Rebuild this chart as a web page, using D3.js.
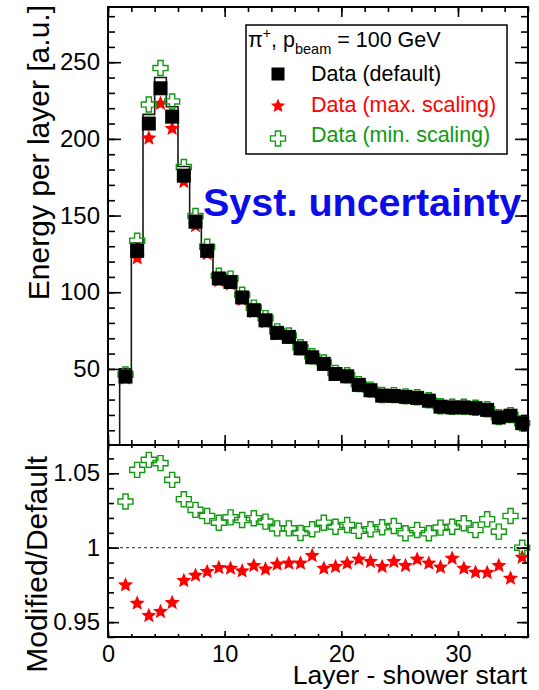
<!DOCTYPE html>
<html><head><meta charset="utf-8">
<script src="https://cdn.jsdelivr.net/npm/d3@7"></script>
<style>
body{margin:0;background:#fff}
svg{display:block;font-family:"Liberation Sans",Arial,Helvetica,sans-serif}
</style>
</head><body>
<svg id="c" width="539" height="690"></svg>
<script>
// ---- data ----
const layerStart = [1,2,3,4,5,6,7,8,9,10,11,12,13,14,15,16,17,18,19,20,21,22,23,24,25,26,27,28,29,30,31,32,33,34,35];
const energyDefault = [45.0,127.0,210.0,233.0,214.5,176.0,146.0,127.0,109.0,106.7,96.6,88.3,81.7,73.5,70.9,63.5,57.6,53.3,46.7,45.2,39.6,36.1,32.6,32.4,31.8,31.1,29.3,25.4,24.9,24.9,24.4,23.3,18.4,19.5,14.6];
const energyMax = [43.9,122.3,200.4,223.0,206.7,172.1,143.3,125.0,107.5,105.2,95.1,87.2,80.5,72.7,70.2,62.8,57.3,52.6,46.1,44.7,39.3,35.8,32.2,32.1,31.4,30.9,29.0,25.1,24.7,24.6,24.0,22.9,18.2,19.1,14.5];
const energyMin = [46.4,133.6,222.4,246.2,224.4,181.7,149.7,129.7,110.8,108.9,98.4,90.0,83.1,74.5,71.8,64.1,58.3,54.2,47.4,45.9,40.1,36.5,33.0,32.9,32.1,31.5,29.6,25.7,25.3,25.3,24.7,23.7,18.6,19.9,14.6];
const histLine = [50,132,216,240,221,182,150,130,112,109,99,91,84,76,73,66,60,55,49,47,41,38,34,34,33,32,31,27,26,26,25.5,24.5,19.5,20.5,15.5];
const ratioMax = [0.9749,0.9626,0.9543,0.9570,0.9630,0.9778,0.9814,0.9839,0.9865,0.9861,0.9843,0.9879,0.9855,0.9888,0.9895,0.9895,0.9946,0.9861,0.9872,0.9895,0.9922,0.9906,0.9872,0.9906,0.9879,0.9922,0.9895,0.9868,0.9928,0.9861,0.9834,0.9832,0.9879,0.9794,0.9935];
const ratioMin = [1.031,1.0523,1.059,1.0568,1.0456,1.0326,1.0254,1.0213,1.0168,1.0204,1.0186,1.0198,1.0175,1.013,1.013,1.0099,1.0124,1.0168,1.0141,1.0153,1.0114,1.0124,1.0137,1.0146,1.0097,1.0119,1.0097,1.0135,1.0141,1.0164,1.0119,1.0191,1.0108,1.0213,1.0];
const xMajorTicks = [0,10,20,30];
const yTopMajorTicks = [50,100,150,200,250];
const yBotMajorTicks = [0.95,1,1.05];
const yBotTickLabels = ["0.95","1","1.05"];
const legendLabels = ["Data (default)","Data (max. scaling)","Data (min. scaling)"];

// ---- styles ----
const RED = "#ff0000", GREEN = "#119911", BLUE = "#0c0ceb";
const FONT = 24;

const svg = d3.select("#c");
const L = 108, R = 528, T = 7, MID = 445, B = 637;

const x = d3.scaleLinear([0, 36], [L, R]);
const yTop = d3.scaleLinear([0, 286], [445.6, T]);
const yBot = d3.scaleLinear([0.94, 1.069], [B, MID]);

function starPath(r) {
  const ri = r * 0.45, pts = [];
  for (let i = 0; i < 10; i++) {
    const a = -Math.PI / 2 + i * Math.PI / 5, rr = i % 2 ? ri : r;
    pts.push([rr * Math.cos(a), rr * Math.sin(a)]);
  }
  return "M" + pts.map(p => p[0].toFixed(2) + "," + p[1].toFixed(2)).join("L") + "Z";
}
function crossPath(h, a) {
  return `M${-a},${-h}H${a}V${-a}H${h}V${a}H${a}V${h}H${-a}V${a}H${-h}V${-a}H${-a}Z`;
}

const center = d => d + 0.5;

// ---- top panel marks ----
const gTop = svg.append("g");
const linePts = [[layerStart[0], 0]].concat(layerStart.map((s, i) => [s, histLine[i]]))
  .concat([[layerStart[layerStart.length - 1] + 1, histLine[histLine.length - 1]]]);
gTop.append("path")
  .attr("d", d3.line().x(d => x(d[0])).y(d => yTop(d[1])).curve(d3.curveStepAfter)(linePts))
  .attr("fill", "none").attr("stroke", "#1a1a12").attr("stroke-width", 1.6);

gTop.selectAll(".smax").data(layerStart).join("path")
  .attr("d", starPath(8)).attr("fill", RED)
  .attr("transform", (d, i) => `translate(${x(center(d))},${yTop(energyMax[i])})`);
gTop.selectAll(".smin").data(layerStart).join("path")
  .attr("d", crossPath(7.5, 2.6)).attr("fill", "none").attr("stroke", GREEN).attr("stroke-width", 1.4)
  .attr("transform", (d, i) => `translate(${x(center(d))},${yTop(energyMin[i])})`);
gTop.selectAll(".sdef").data(layerStart).join("rect")
  .attr("x", d => x(center(d)) - 7).attr("y", (d, i) => yTop(energyDefault[i]) - 7)
  .attr("width", 14).attr("height", 14).attr("fill", "#000");

// ---- bottom panel marks ----
const gBot = svg.append("g");
gBot.append("line").attr("x1", L).attr("x2", R).attr("y1", yBot(1)).attr("y2", yBot(1))
  .attr("stroke", "#555").attr("stroke-width", 1.2).attr("stroke-dasharray", "3,3");
gBot.selectAll(".rmax").data(layerStart).join("path")
  .attr("d", starPath(8)).attr("fill", RED)
  .attr("transform", (d, i) => `translate(${x(center(d))},${yBot(ratioMax[i])})`);
gBot.selectAll(".rmin").data(layerStart).join("path")
  .attr("d", crossPath(7.5, 2.6)).attr("fill", "none").attr("stroke", GREEN).attr("stroke-width", 1.4)
  .attr("transform", (d, i) => `translate(${x(center(d))},${yBot(ratioMin[i])})`);

// ---- axes ----
function styleAxis(g, size) {
  g.select(".domain").remove();
  g.selectAll(".tick line").attr("stroke", "#000").attr("stroke-width", 1.6);
  g.selectAll(".tick text").attr("font-size", size || FONT).attr("fill", "#000")
    .attr("font-family", '"Liberation Sans",Arial,sans-serif');
}
const xMinor = d3.range(0, 37, 2);
svg.append("g").attr("transform", `translate(0,${T})`)
  .call(d3.axisTop(x).tickValues(xMinor).tickSizeInner(-5).tickSizeOuter(0).tickFormat("")).call(styleAxis);
svg.append("g").attr("transform", `translate(0,${T})`)
  .call(d3.axisTop(x).tickValues(xMajorTicks).tickSizeInner(-10).tickSizeOuter(0).tickFormat("")).call(styleAxis);
svg.append("g").attr("transform", `translate(0,${MID})`)
  .call(d3.axisBottom(x).tickValues(xMinor).tickSizeInner(-5).tickSizeOuter(0).tickFormat("")).call(styleAxis);
svg.append("g").attr("transform", `translate(0,${MID})`)
  .call(d3.axisBottom(x).tickValues(xMajorTicks).tickSizeInner(-10).tickSizeOuter(0).tickFormat("")).call(styleAxis);
svg.append("g").attr("transform", `translate(0,${MID})`)
  .call(d3.axisTop(x).tickValues(xMinor).tickSizeInner(-3).tickSizeOuter(0).tickFormat("")).call(styleAxis);
svg.append("g").attr("transform", `translate(0,${MID})`)
  .call(d3.axisTop(x).tickValues(xMajorTicks).tickSizeInner(-6).tickSizeOuter(0).tickFormat("")).call(styleAxis);
svg.append("g").attr("transform", `translate(0,${B})`)
  .call(d3.axisBottom(x).tickValues(xMinor).tickSizeInner(-3).tickSizeOuter(0).tickFormat("")).call(styleAxis);
svg.append("g").attr("transform", `translate(0,${B})`)
  .call(d3.axisBottom(x).tickValues(xMajorTicks).tickSizeInner(-6).tickSizeOuter(0).tickPadding(8).tickFormat(d3.format("d")))
  .call(g => styleAxis(g, 23.5));

const yTopMinor = d3.range(10, 281, 10);
svg.append("g").attr("transform", `translate(${L},0)`)
  .call(d3.axisLeft(yTop).tickValues(yTopMinor).tickSizeInner(-7).tickSizeOuter(0).tickFormat("")).call(styleAxis);
svg.append("g").attr("transform", `translate(${L},0)`)
  .call(d3.axisLeft(yTop).tickValues(yTopMajorTicks).tickSizeInner(-13).tickSizeOuter(0).tickPadding(8).tickFormat(d3.format("d"))).call(styleAxis);
svg.append("g").attr("transform", `translate(${R},0)`)
  .call(d3.axisRight(yTop).tickValues(yTopMinor).tickSizeInner(-7).tickSizeOuter(0).tickFormat("")).call(styleAxis);
svg.append("g").attr("transform", `translate(${R},0)`)
  .call(d3.axisRight(yTop).tickValues(yTopMajorTicks).tickSizeInner(-13).tickSizeOuter(0).tickFormat("")).call(styleAxis);

const yBotMinor = d3.range(0, 13).map(i => 0.94 + i * 0.01);
svg.append("g").attr("transform", `translate(${L},0)`)
  .call(d3.axisLeft(yBot).tickValues(yBotMinor).tickSizeInner(-6).tickSizeOuter(0).tickFormat("")).call(styleAxis);
svg.append("g").attr("transform", `translate(${L},0)`)
  .call(d3.axisLeft(yBot).tickValues(yBotMajorTicks).tickSizeInner(-11).tickSizeOuter(0).tickPadding(8)
    .tickFormat((d, i) => yBotTickLabels[i])).call(styleAxis);
svg.append("g").attr("transform", `translate(${R},0)`)
  .call(d3.axisRight(yBot).tickValues(yBotMinor).tickSizeInner(-6).tickSizeOuter(0).tickFormat("")).call(styleAxis);
svg.append("g").attr("transform", `translate(${R},0)`)
  .call(d3.axisRight(yBot).tickValues(yBotMajorTicks).tickSizeInner(-11).tickSizeOuter(0).tickFormat("")).call(styleAxis);

// frames
svg.append("rect").attr("x", L).attr("y", T).attr("width", R - L).attr("height", MID - T)
  .attr("fill", "none").attr("stroke", "#000").attr("stroke-width", 2);
svg.append("rect").attr("x", L).attr("y", MID).attr("width", R - L).attr("height", B - MID)
  .attr("fill", "none").attr("stroke", "#000").attr("stroke-width", 2);

// axis titles
svg.append("text").attr("transform", "translate(48.5,5) rotate(-90)")
  .attr("text-anchor", "end").attr("font-size", 30).text("Energy per layer [a.u.]");
svg.append("text").attr("transform", "translate(47,456) rotate(-90)")
  .attr("text-anchor", "end").attr("font-size", 30).text("Modified/Default");
svg.append("text").attr("x", 527).attr("y", 684).attr("text-anchor", "end")
  .attr("font-size", 26.5).text("Layer - shower start");

// Syst. uncertainty
svg.append("text").attr("x", 203).attr("y", 216).attr("font-size", 39.5).attr("font-weight", "bold")
  .attr("fill", BLUE).text("Syst. uncertainty");

// legend
const lg = svg.append("g");
lg.append("rect").attr("x", 246).attr("y", 25).attr("width", 261).attr("height", 129)
  .attr("fill", "#fff").attr("stroke", "#000").attr("stroke-width", 1.5);
const hdr = lg.append("text").attr("x", 248).attr("y", 46.7).attr("font-size", 21.5);
hdr.append("tspan").text("π");
hdr.append("tspan").attr("font-size", 14).attr("dy", -9).text("+");
hdr.append("tspan").attr("dy", 9).text(", p");
hdr.append("tspan").attr("font-size", 14.5).attr("dy", 7).text("beam");
hdr.append("tspan").attr("dy", -7).text(" = 100 GeV");

const legY = [80.7, 112.3, 141.7];
const legColors = ["#000", RED, GREEN];
legendLabels.forEach((t, i) => {
  lg.append("text").attr("x", 311).attr("y", legY[i]).attr("font-size", 21.5).attr("fill", legColors[i]).text(t);
});
lg.append("rect").attr("x", 278 - 6.5).attr("y", 74 - 6.5).attr("width", 13).attr("height", 13).attr("fill", "#000");
lg.append("path").attr("d", starPath(7.5)).attr("fill", RED).attr("transform", "translate(278,106)");
lg.append("path").attr("d", crossPath(7.5, 2.6)).attr("fill", "none").attr("stroke", GREEN)
  .attr("stroke-width", 1.4).attr("transform", "translate(278,138.5)");
</script>
</body></html>
